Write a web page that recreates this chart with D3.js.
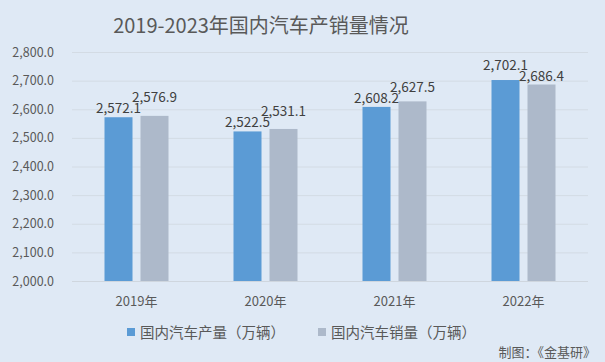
<!DOCTYPE html>
<html lang="zh">
<head>
  <meta charset="UTF-8">
  <title>2019-2023年国内汽车产销量情况</title>
  <script src="https://cdn.jsdelivr.net/npm/d3@7"></script>
  <style>
    body {
      margin: 0;
      background: #dfe9f5;
    }

    svg {
      display: block;
      font-family: "Noto Sans CJK SC", "Noto Sans", sans-serif;
    }
  </style>
</head>
<body>
<svg id="chart" width="605" height="362"></svg>
<script>
  const years = ["2019年", "2020年", "2021年", "2022年"];
  const production = [2572.1, 2522.5, 2608.2, 2702.1];
  const sales = [2576.9, 2531.1, 2627.5, 2686.4];
  const seriesNames = ["国内汽车产量（万辆）", "国内汽车销量（万辆）"];
  const yTicks = [2000, 2100, 2200, 2300, 2400, 2500, 2600, 2700, 2800];

  const colors = ["#5b9bd5", "#adb9ca"];
  const svg = d3.select("#chart");

  svg.append("rect")
      .attr("width", 605).attr("height", 362)
      .attr("fill", "#dfe9f5");

  const x = d3.scaleBand().domain(years).range([72, 588]);
  const y = d3.scaleLinear().domain([2000, 2800]).range([281, 52]);
  const fmt = d3.format(",.1f");

  // gridlines
  svg.append("g")
      .selectAll("line")
      .data(yTicks)
      .join("line")
      .attr("x1", 72).attr("x2", 588)
      .attr("y1", d => y(d) + 0.5).attr("y2", d => y(d) + 0.5)
      .attr("stroke", d => d === 2000 ? "#cfd6de" : "#d3dbe4")
      .attr("stroke-width", 1);

  // y axis labels
  svg.append("g")
      .selectAll("text")
      .data(yTicks)
      .join("text")
      .attr("x", 54)
      .attr("y", d => y(d) + 4.5)
      .attr("text-anchor", "end")
      .attr("font-size", 12.5)
      .attr("fill", "#595959")
      .text(d => fmt(d));

  // bars
  const rows = years.map((yr, i) => ({year: yr, vals: [production[i], sales[i]]}));
  const barW = 28;
  const offsets = [x.bandwidth() / 2 - 32, x.bandwidth() / 2 + 4];

  const groups = svg.append("g")
      .selectAll("g")
      .data(rows)
      .join("g")
      .attr("transform", d => `translate(${x(d.year)},0)`);

  groups.selectAll("rect")
      .data(d => d.vals)
      .join("rect")
      .attr("x", (d, i) => offsets[i])
      .attr("width", barW)
      .attr("y", d => y(d))
      .attr("height", d => y(2000) - y(d))
      .attr("fill", (d, i) => colors[i]);

  // data labels: the taller bar's label is pushed up so they don't collide
  groups.each(function (d) {
    let base = d.vals.map(v => y(v) - 4);
    let hi = d.vals[0] > d.vals[1] ? 0 : 1;
    let lo = 1 - hi;
    base[hi] = Math.min(base[hi], base[lo] - 11);
    d3.select(this).selectAll("text.lbl")
        .data(d.vals)
        .join("text")
        .attr("class", "lbl")
        .attr("x", (v, i) => offsets[i] + barW / 2)
        .attr("y", (v, i) => base[i])
        .attr("text-anchor", "middle")
        .attr("font-size", 13.5)
        .attr("fill", "#404040")
        .text(v => fmt(v));
  });

  // category labels
  svg.append("g")
      .selectAll("text")
      .data(years)
      .join("text")
      .attr("x", d => x(d) + x.bandwidth() / 2)
      .attr("y", 306)
      .attr("text-anchor", "middle")
      .attr("font-size", 13)
      .attr("fill", "#595959")
      .text(d => d);

  // title
  svg.append("text")
      .attr("x", 261)
      .attr("y", 33)
      .attr("text-anchor", "middle")
      .attr("font-size", 20)
      .attr("fill", "#595959")
      .text("2019-2023年国内汽车产销量情况");

  // legend
  const legendX = [127, 318];
  const legend = svg.append("g")
      .selectAll("g")
      .data(seriesNames)
      .join("g")
      .attr("transform", (d, i) => `translate(${legendX[i]},0)`);
  legend.append("rect")
      .attr("y", 328).attr("width", 8).attr("height", 8)
      .attr("fill", (d, i) => colors[i]);
  legend.append("text")
      .attr("x", 13).attr("y", 338)
      .attr("font-size", 14.5)
      .attr("fill", "#595959")
      .text(d => d);

  // source
  svg.append("text")
      .attr("x", 596)
      .attr("y", 357)
      .attr("text-anchor", "end")
      .attr("font-size", 13)
      .attr("fill", "#595959")
      .text("制图：《金基研》");
</script>
</body>
</html>
